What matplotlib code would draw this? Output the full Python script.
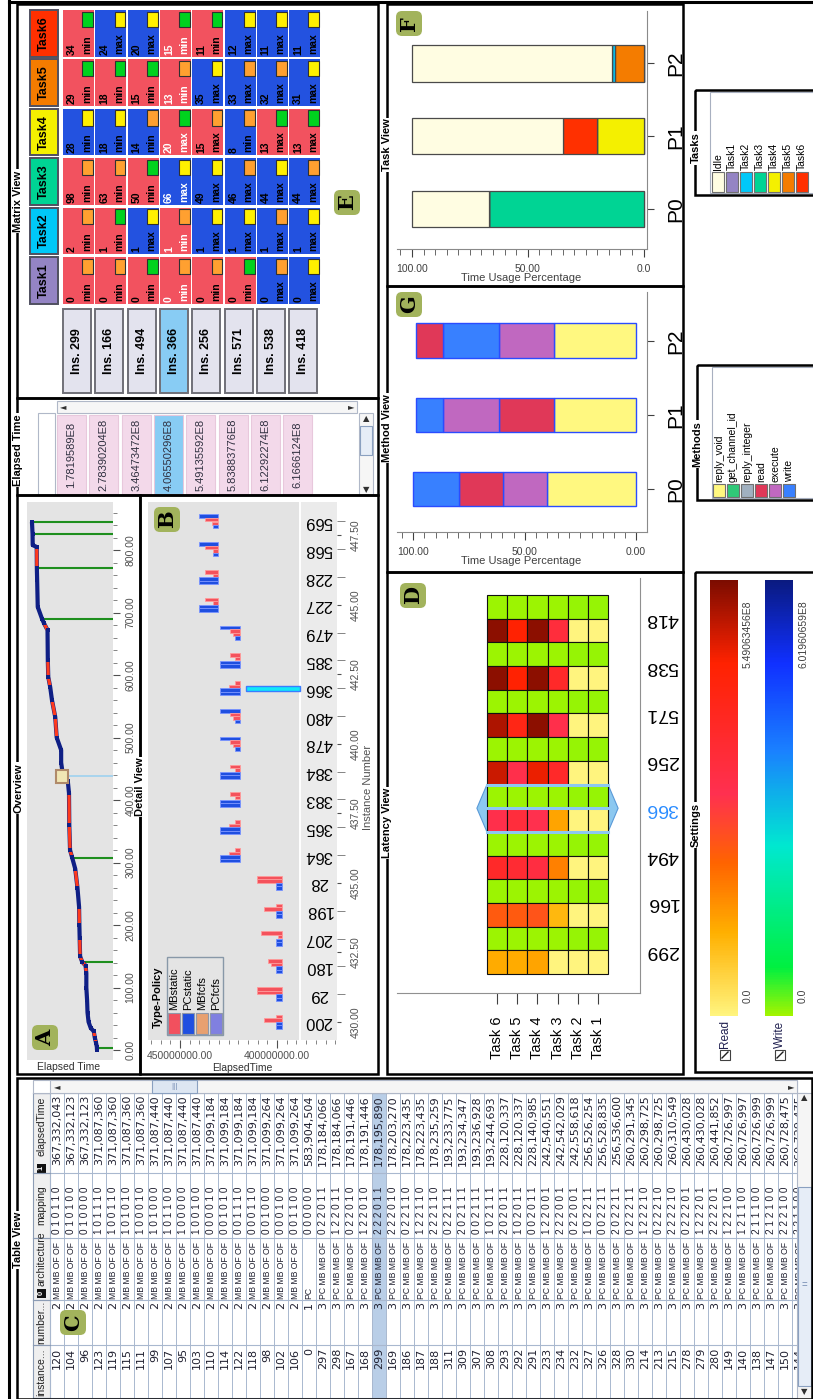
import numpy as np
import matplotlib
matplotlib.use('Agg')
import matplotlib.pyplot as plt
from matplotlib.patches import Rectangle, FancyBboxPatch, Polygon
from matplotlib.colors import LinearSegmentedColormap, Normalize
from matplotlib.cm import ScalarMappable
from matplotlib.ticker import FixedLocator, MultipleLocator

plt.rcParams['font.family'] = ['Liberation Sans', 'DejaVu Sans']
NARROW = ['Liberation Sans Narrow', 'Liberation Sans', 'DejaVu Sans']

# ------------------------------------------------------------------ data
mx_instances = ['Ins. 299', 'Ins. 166', 'Ins. 494', 'Ins. 366', 'Ins. 256', 'Ins. 571', 'Ins. 538', 'Ins. 418']
mx_tasks = ['Task1', 'Task2', 'Task3', 'Task4', 'Task5', 'Task6']
task_colors = ['#9484c4', '#00c8f8', '#00d494', '#f4f000', '#f47c00', '#ff3000']
mx_values = [[0, 2, 98, 28, 29, 34], [0, 1, 63, 18, 18, 24], [0, 1, 50, 14, 15, 20], [0, 1, 66, 20, 13, 15],
             [0, 1, 49, 15, 35, 11], [0, 1, 46, 8, 33, 12], [0, 1, 44, 13, 32, 11], [0, 1, 44, 13, 31, 11]]
mx_kind = [['min', 'min', 'min', 'min', 'min', 'min'], ['min', 'min', 'min', 'min', 'min', 'max'],
           ['min', 'max', 'min', 'min', 'min', 'max'], ['min', 'min', 'max', 'max', 'min', 'min'],
           ['min', 'max', 'max', 'max', 'max', 'min'], ['min', 'max', 'max', 'min', 'max', 'max'],
           ['max', 'max', 'max', 'max', 'max', 'max'], ['max', 'max', 'max', 'max', 'max', 'max']]
mx_cell = ['RRRBRR', 'RRRBRB', 'RBRBRB', 'RRBRRR', 'RBBRBR', 'RBBBBB', 'BBBRBB', 'BBBRBB']
mx_flag = ['oooygg', 'ogoygy', 'gygogy', 'ooygog', 'oyyoyg', 'gyoooy', 'ooygoy', 'yyogyy']
mx_selected = 3

elapsed_list = ['1.7819589E8', '2.78390204E8', '3.46473472E8', '4.06550296E8',
                '5.49135592E8', '5.83883776E8', '6.12292274E8', '6.1666124E8']

# overview (instance rank, elapsed time in 1e8)
ov_idx = [0, 5, 12, 20, 30, 35, 45, 60, 80, 100, 123, 135, 141, 150, 180, 200, 229, 260, 290, 309, 320, 360,
          411, 430, 438, 460, 480, 500, 533, 560, 581, 597, 624, 672, 683, 690, 709, 752, 771, 805, 808, 826, 845]
ov_val = [1.78, 1.79, 1.85, 1.93, 2.00, 2.20, 2.35, 2.42, 2.45, 2.50, 2.50, 2.55, 2.78, 2.92, 2.95, 2.97, 2.99,
          3.10, 3.25, 3.47, 3.60, 3.65, 3.67, 3.75, 4.07, 4.20, 4.20, 4.50, 4.60, 4.82, 4.94, 5.07, 5.10, 5.12,
          5.36, 5.49, 5.78, 5.82, 5.84, 5.85, 6.12, 6.13, 6.17]
ov_seg = 'rrrrbbbbbbrrrrbrbrbrrrbbbbbrrbrrbrbbbbrbbb'
sel_idx = [3, 141, 307, 438, 690, 771, 826, 845]
sel_val = [1.78, 2.78, 3.46, 4.07, 5.49, 5.84, 6.12, 6.17]
sel_current = 3

# detail view (elapsed time in millions)
det_instances = ['200', '29', '180', '207', '198', '28', '364', '365', '383', '384', '478', '480', '366', '385',
                 '479', '227', '228', '568', '569']
det_pos = [430, 431, 432, 433, 434, 435, 436, 437, 438, 439, 440, 441, 442, 443, 444, 445, 446, 447, 448]
det_base = [397.6] * 6 + [419.1] * 9 + [430.3] * 4
det_vals = [[400.5, 406.7, 400.5, 400.5], [410.5, 410.5, 400.5, 400.5], [404.5, 403.0, 400.5, 400.5],
            [408.2, 399.5, 400.5, 400.5], [400.5, 406.7, 400.5, 400.5], [410.5, 410.5, 400.5, 400.5],
            [421.6, 424.6, 429.4, 429.4], [421.6, 424.6, 429.4, 429.4], [424.2, 421.6, 429.4, 429.4],
            [424.2, 421.6, 429.4, 429.4], [429.4, 424.2, 422.5, 421.9], [429.4, 424.2, 422.5, 421.9],
            [421.6, 424.6, 429.4, 429.4], [424.2, 421.6, 429.4, 429.4], [429.4, 424.2, 422.5, 421.6],
            [437.1, 432.8, 440.1, 440.1], [437.1, 432.8, 440.1, 440.1], [440.1, 437.1, 433.2, 433.2],
            [440.1, 437.1, 433.7, 433.2]]
det_cols = ['RRBB', 'RRBB', 'RRBB', 'RRBB', 'RRBB', 'RRBB', 'RRBB', 'RRBB', 'RRBB', 'RRBB', 'BRRB', 'BRRB',
            'RRBB', 'RRBB', 'BRRB', 'RRBB', 'RRBB', 'BRRB', 'BRRB']
det_selected = '366'
det_sel_range = (388.1, 416.0)
type_policy = ['MBstatic', 'PCstatic', 'MBfcfs', 'PCfcfs']
type_colors = ['#f2505e', '#1f4fe0', '#e8a070', '#8080e0']

# table view
tbl_instance = [120, 104, 96, 123, 119, 115, 111, 99, 107, 95, 103, 110, 114, 122, 118, 98, 102, 106, 0, 297,
                298, 167, 168, 299, 169, 186, 187, 188, 311, 309, 307, 308, 293, 292, 291, 233, 234, 232, 327,
                326, 328, 330, 214, 213, 215, 278, 279, 280, 149, 140, 138, 147, 150, 144]
tbl_number = [2] * 18 + [1] + [3] * 35
tbl_arch = ['MB MB OF OF'] * 18 + ['PC'] + ['PC MB MB OF'] * 35
tbl_mapping = ['010110', '010100', '010000', '101110', '100110', '101010', '100010', '101000', '101100',
               '100000', '100100', '000010', '001010', '001110', '000110', '001000', '000100', '001100',
               '000000', '022011', '122011', '022010', '122010', '222011', '222010', '022110', '122110',
               '222110', '022111', '202111', '002111', '102111', '202011', '102011', '002011', '122001',
               '222001', '022001', '102211', '002211', '202211', '022211', '122210', '022210', '222210',
               '022201', '122201', '222201', '122100', '121100', '211100', '212100', '222100', '221100']
tbl_elapsed = [367332043, 367332123, 367332123, 371087360, 371087360, 371087360, 371087360, 371087440,
               371087440, 371087440, 371087440, 371099184, 371099184, 371099184, 371099184, 371099264,
               371099264, 371099264, 583904504, 178184066, 178184066, 178191446, 178191446, 178195890,
               178203270, 178223435, 178223435, 178235259, 193233775, 193234347, 193236928, 193244693,
               228120337, 228120337, 228140985, 242540551, 242542029, 242558618, 256526254, 256528835,
               256536600, 260291345, 260298725, 260298725, 260310549, 260430028, 260430028, 260441852,
               260726997, 260726997, 260726999, 260726999, 260728475, 260729475]
tbl_selected = 23

# task view (percent of time)
procs = ['P0', 'P1', 'P2']
task_names = ['Idle', 'Task1', 'Task2', 'Task3', 'Task4', 'Task5', 'Task6']
task_legend_colors = ['#fffde2', '#9484c4', '#00c8f8', '#00d494', '#f4f000', '#f47c00', '#ff3000']
task_stack = ['Task1', 'Task3', 'Task4', 'Task5', 'Task2', 'Task6', 'Idle']
task_pct = {'Idle': [33.2, 65.0, 86.5], 'Task1': [0, 0, 0], 'Task2': [0, 0, 1.3], 'Task3': [66.8, 0, 0],
            'Task4': [0, 20.0, 0], 'Task5': [0, 0, 12.2], 'Task6': [0, 15.0, 0]}

# method view
methods = ['reply_void', 'get_channel_id', 'reply_integer', 'read', 'execute', 'write']
method_colors = ['#fff880', '#30c878', '#a0b0c0', '#e03858', '#c068c0', '#3880ff']
meth_stack = [['reply_void', 'execute', 'read', 'write'], ['reply_void', 'read', 'execute', 'write'],
              ['reply_void', 'execute', 'write', 'read']]
meth_pct = [[39.8, 19.8, 20.0, 20.3], [36.9, 24.7, 25.0, 12.0], [36.9, 24.7, 25.0, 12.0]]

# latency view (1e8), columns Task6..Task1
lat_instances = ['418', '538', '571', '256', '366', '494', '166', '299']
lat_tasks = ['Task 6', 'Task 5', 'Task 4', 'Task 3', 'Task 2', 'Task 1']
lat_read = [[5.35, 4.4, 5.35, 3.2, 0.02, 0.02], [5.35, 4.4, 5.35, 3.6, 0.02, 0.02],
            [5.1, 4.0, 5.35, 2.9, 0.02, 0.02], [4.85, 2.9, 4.6, 3.6, 0.02, 0.02],
            [2.9, 3.2, 2.85, 1.2, 0.02, 0.02], [3.6, 3.4, 3.1, 1.6, 0.02, 0.02],
            [2.1, 2.1, 2.2, 0.93, 0.02, 0.02], [1.1, 1.1, 1.2, 0.02, 0.02, 0.02]]
lat_write = [[0.03, 0.03, 0.03, 0.03, 0.05, 0.05]] * 8
read_max = 5.49063456
write_max = 6.01960659

# ------------------------------------------------------------------ figure
W, H = 813, 1399
fig = plt.figure(figsize=(W / 100, H / 100), dpi=100)
fig.patch.set_facecolor('white')


def box(x0, y0, x1, y1, z=5):
    return fig.add_axes([x0 / W, 1 - y1 / H, (x1 - x0) / W, (y1 - y0) / H], zorder=z)


fg = box(0, 0, W, H, z=30)
fg.set_xlim(0, W)
fg.set_ylim(H, 0)
fg.axis('off')


def T(x, y, s, rot=90, size=8, weight='normal', color='black', ha='center', va='center', family=None, ax=None, **kw):
    a = ax if ax is not None else fg
    kws = dict(rotation=rot, fontsize=size, fontweight=weight, color=color, ha=ha, va=va)
    if family is not None:
        kws['family'] = family
    kws.update(kw)
    return a.text(x, y, s, **kws)


def rect(x0, y0, x1, y1, fc='none', ec='black', lw=1.0, ax=None, **kw):
    a = ax if ax is not None else fg
    p = Rectangle((x0, y0), x1 - x0, y1 - y0, fc=fc, ec=ec, lw=lw, **kw)
    a.add_patch(p)
    return p


def title(x, y, s):
    T(x, y, s, size=8, weight='bold', family=NARROW, bbox=dict(fc='white', ec='none', pad=0.8))


def badge(x0, y0, letter):
    fg.add_patch(FancyBboxPatch((x0 + 3, y0 + 3), 20, 19, boxstyle='round,pad=3,rounding_size=6',
                                fc='#a2b35c', ec='none'))
    T(x0 + 13, y0 + 12.5, letter, size=15, weight='bold', family='DejaVu Serif')


# outer lines
fg.plot([9, 9], [0, H], color='black', lw=2.2)
fg.plot([9, W], [2, 2], color='black', lw=2.2)

# ------------------------------------------------------------------ matrix view
RED, BLUE = '#f2525f', '#2352e0'
FLAG = {'o': '#ffa030', 'y': '#fff000', 'g': '#00d21e'}
mxa = box(63, 8.6, 321.4, 305, z=6)
mxa.set_xlim(0, 8)
mxa.set_ylim(0, 6)
mxa.axis('off')
cw = 31 / 32.3
for j, tname in enumerate(mx_tasks):
    mxa.add_patch(Rectangle((-1.02, j + 0.03), 0.865, 0.94, fc=task_colors[j], ec='#505060', lw=1.4, clip_on=False))
    mxa.text(-0.59, j + 0.5, tname, rotation=90, ha='center', va='center', fontsize=9, fontweight='bold',
             family=NARROW, clip_on=False)
for i, inst in enumerate(mx_instances):
    sel = (i == mx_selected)
    mxa.add_patch(Rectangle((i, -1.78), 0.87, 1.70, fc='#88ccf4' if sel else '#e3e3ee', ec='#707078', lw=1.4,
                            clip_on=False))
    mxa.text(i + 0.435, -0.93, inst, rotation=90, ha='center', va='center', fontsize=9, fontweight='bold',
             family=NARROW, clip_on=False)
    tc = 'white' if sel else 'black'
    for j in range(6):
        mxa.add_patch(Rectangle((i, j + 0.03), cw, 0.94, fc=RED if mx_cell[i][j] == 'R' else BLUE, ec='none'))
        mxa.text(i + 0.28, j + 0.07, str(mx_values[i][j]), rotation=90, ha='center', va='bottom', fontsize=7.5,
                 fontweight='bold', color=tc)
        mxa.text(i + 0.74, j + 0.09, mx_kind[i][j], rotation=90, ha='center', va='bottom', fontsize=7.5,
                 fontweight='bold', color=tc)
        mxa.add_patch(Rectangle((i + 0.6, j + 0.63), 0.33, 0.31, fc=FLAG[mx_flag[i][j]], ec='#303030', lw=0.8))

# ------------------------------------------------------------------ elapsed time list
rect(38, 413, 55, 495, fc='white', ec='#b0b8c8', lw=0.8)
rect(57, 401, 357, 413, fc='#f6f6f6', ec='#b0b8c8', lw=0.8)
T(63, 407, '\u25c4', rot=0, size=6, family='DejaVu Sans', color='#303030')
T(351, 407, '\u25ba', rot=0, size=6, family='DejaVu Sans', color='#303030')
rect(359, 413, 373, 495, fc='#f6f6f6', ec='#b0b8c8', lw=0.8)
rect(360, 426, 372, 455, fc='#e6edf7', ec='#8aa0c0', lw=0.8)
T(366, 419, '\u25b2', rot=0, size=6, family='DejaVu Sans', color='#303030')
T(366, 490, '\u25bc', rot=0, size=6, family='DejaVu Sans', color='#303030')
for i, s in enumerate(elapsed_list):
    x0 = 57 + 32.3 * i
    rect(x0, 415, x0 + 29, 494, fc='#88ccf4' if i == mx_selected else '#f3d9ea', ec='#e8c8dc', lw=0.8)
    T(x0 + 14.5, 455, s, size=8, color='#303040')

# ------------------------------------------------------------------ overview
ov = box(27, 502, 113, 1060, z=6)
ov.set_facecolor('#e4e4e4')
ov.set_xlim(6.505, 0.70)
ov.set_ylim(-16, 877)
for s in ov.spines.values():
    s.set_visible(False)
ov.set_xticks([])
ov.yaxis.tick_right()
ov.yaxis.set_major_locator(FixedLocator(list(range(0, 801, 100))))
ov.yaxis.set_minor_locator(MultipleLocator(20))
ov.set_yticklabels(['%.2f' % v for v in range(0, 801, 100)])
ov.tick_params(axis='y', which='major', length=5, pad=4, labelsize=7.5, labelrotation=90, colors='#505050')
ov.tick_params(axis='y', which='minor', length=3, colors='#707070')
for lab in ov.get_yticklabels():
    lab.set_va('center')
ov.plot(ov_val, ov_idx, color='#0f1f85', lw=3.0, solid_capstyle='butt', zorder=3)
for k in range(len(ov_seg)):
    if ov_seg[k] == 'r':
        ov.plot(ov_val[k:k + 2], ov_idx[k:k + 2], color='#ff3a1e', lw=2.3, solid_capstyle='butt', zorder=4)
ov.scatter(ov_val, ov_idx, s=5, marker='s', color='#0f1f85', zorder=5, linewidths=0)
for k, (yi, vv) in enumerate(zip(sel_idx, sel_val)):
    if k == sel_current:
        ov.hlines(yi, vv, 0.70, colors='#a8d4ee', lw=1.4, zorder=2)
        ov.add_patch(Rectangle((vv - 0.33, yi - 10), 0.81, 20, fc='#f0e6b4', ec='#b08a6a', lw=1.5, zorder=6))
    else:
        ov.hlines(yi, vv, 0.70, colors='#1e8f1e', lw=1.5, zorder=2)
T(69, 1067, 'Elapsed Time', rot=0, size=7.5, color='#303030')

# ------------------------------------------------------------------ detail view
dv = box(148, 502, 337, 1040, z=6)
dv.set_facecolor('#e3e3e3')
dv.set_xlim(466.5, 369.1)
dv.set_ylim(429.35, 448.7)
for s in dv.spines.values():
    s.set_visible(False)
dv.axvspan(369.1, 388.1, color='#ebebeb', zorder=0)
dv.axvline(388.1, color='white', lw=1.4, zorder=1)
offs = [0.19, 0.065, -0.065, -0.19]
for k, inst in enumerate(det_instances):
    for b in range(4):
        red = det_cols[k][b] == 'R'
        dv.barh(det_pos[k] + offs[b], det_vals[k][b] - det_base[k], left=det_base[k], height=0.125,
                color='#f4525c' if red else '#1f4fe0', edgecolor='#ff9a9a' if red else '#7a94ff', lw=0.6,
                zorder=3)
    dv.text(378.7, det_pos[k], inst, rotation=180, ha='center', va='center', fontsize=12, family=NARROW,
            color='black')
    if inst == det_selected:
        dv.barh(det_pos[k], det_sel_range[1] - det_sel_range[0], left=det_sel_range[0], height=0.16,
                color='#10e8f8', edgecolor='#3a7cff', lw=1.0, zorder=4)
dv.xaxis.set_major_locator(FixedLocator([400, 450]))
dv.xaxis.set_minor_locator(MultipleLocator(5))
dv.set_xticklabels(['400000000.00', '450000000.00'])
dv.tick_params(axis='x', which='major', length=6, labelsize=7.5, colors='#505050', pad=2)
dv.tick_params(axis='x', which='minor', length=3, colors='#707070')
dv.yaxis.tick_right()
dv.yaxis.set_major_locator(FixedLocator([430, 432.5, 435, 437.5, 440, 442.5, 445, 447.5]))
dv.yaxis.set_minor_locator(FixedLocator(det_pos))
dv.set_yticklabels(['%.2f' % v for v in [430, 432.5, 435, 437.5, 440, 442.5, 445, 447.5]])
dv.tick_params(axis='y', which='major', length=3, labelsize=7.5, labelrotation=90, colors='#505050', pad=7)
dv.tick_params(axis='y', which='minor', length=6, colors='#707070')
for lab in dv.get_yticklabels():
    lab.set_va('center')
T(368, 787, 'Instance Number', size=8, color='#505050')
T(242, 1068, 'ElapsedTime', rot=0, size=7.5, color='#303030')
# type-policy legend
rect(167, 957, 223, 1035, fc='#e4e4e4', ec='#8898a8', lw=1.0)
T(158, 997, 'Type-Policy', size=8, weight='bold', family=NARROW)
for k, (nm, col) in enumerate(zip(type_policy, type_colors)):
    x0 = 168 + 14 * k
    rect(x0, 1013, x0 + 12, 1034, fc=col, ec='#9098a8', lw=0.8)
    T(x0 + 6, 1010, nm, size=8, va='bottom')

# ------------------------------------------------------------------ table view
tb = box(50, 1093, 797, 1398, z=6)
tb.set_xlim(0, 747 / 14)
tb.set_ylim(1398, 1093)
tb.axis('off')
col_edges = [1093, 1173, 1238, 1300, 1345, 1398]
tb.add_patch(Rectangle((tbl_selected, 1093), 1, 305, fc='#b9cee7', ec='none'))
for i in range(len(tbl_instance)):
    x = i + 0.5
    kw = dict(rotation=90, ha='center', color='#202030', clip_on=True)
    tb.text(x, 1348, str(tbl_instance[i]), va='top', fontsize=8, family='DejaVu Sans', **kw)
    tb.text(x, 1302, str(tbl_number[i]), va='top', fontsize=8, family='DejaVu Sans', **kw)
    tb.text(x, 1299, tbl_arch[i], va='bottom', fontsize=6.2, family='Liberation Sans', **kw)
    tb.text(x, 1234, ' '.join(tbl_mapping[i]), va='bottom', fontsize=7.2, family='Liberation Sans', **kw)
    tb.text(x, 1095, '{:,}'.format(tbl_elapsed[i]), va='top', fontsize=8, family='DejaVu Sans', **kw)
for i in range(len(tbl_instance) + 1):
    tb.plot([i, i], [1093, 1398], color='#a9b8cf', lw=0.7)
for y in col_edges:
    tb.plot([-1.21, 54], [y, y], color='#a9b8cf', lw=0.8, clip_on=False)
tb.add_patch(Rectangle((-1.21, 1093), 1.21, 305, fc='#efefef', ec='#8c9cb4', lw=0.8, clip_on=False))
for y in col_edges:
    tb.plot([-1.21, 0], [y, y], color='#8c9cb4', lw=0.8, clip_on=False)
hk = dict(rotation=90, ha='center', va='center', fontsize=7.5, color='#202020', clip_on=False)
tb.text(-0.6, 1372, 'instance...', **hk)
tb.text(-0.6, 1322, 'number...', **hk)
tb.text(-0.6, 1259, 'architecture', **hk)
tb.text(-0.6, 1205, 'mapping', **hk)
tb.text(-0.6, 1126, 'elapsedTime', **hk)
for yb, d in [(1293, '0'), (1168, '1')]:
    tb.add_patch(Rectangle((-0.92, yb - 4.5), 0.62, 9, fc='#111111', ec='none', clip_on=False))
    tb.text(-0.61, yb, d, rotation=90, ha='center', va='center', fontsize=5.5, color='white', fontweight='bold',
            clip_on=False)
rect(33, 1080, 797, 1093, fc='white', ec='#b0b8c8', lw=0.8)
rect(50, 1080, 797, 1093, fc='#f5f5f5', ec='#b0b8c8', lw=0.8)
rect(152, 1080, 197, 1093, fc='#dde6f2', ec='#8aa0c0', lw=0.8)
T(174, 1086.5, '|||', rot=0, size=6, color='#7088b0')
T(57, 1086.5, '\u25c4', rot=0, size=6, family='DejaVu Sans', color='#303030')
T(791, 1086.5, '\u25ba', rot=0, size=6, family='DejaVu Sans', color='#303030')
rect(797, 1093, 812, 1399, fc='#f5f5f5', ec='#b0b8c8', lw=0.8)
rect(798, 1187, 811, 1386, fc='#e6edf7', ec='#8aa0c0', lw=0.8)
T(804.5, 1285, '=', rot=0, size=7, color='#7088b0')
T(804.5, 1098, '\u25b2', rot=0, size=6, family='DejaVu Sans', color='#303030')
T(804.5, 1392, '\u25bc', rot=0, size=6, family='DejaVu Sans', color='#303030')

# ------------------------------------------------------------------ task view
def style_bar_axes(ax, major_labels, xlim, ylim):
    ax.set_xlim(*xlim)
    ax.set_ylim(*ylim)
    ax.spines['top'].set_visible(False)
    ax.spines['left'].set_visible(False)
    ax.spines['bottom'].set_color('#8a8a8a')
    ax.spines['right'].set_color('#8a8a8a')
    ax.xaxis.set_major_locator(FixedLocator([0, 50, 100]))
    ax.xaxis.set_minor_locator(FixedLocator([v for v in range(0, 106, 5)]))
    ax.set_xticklabels(major_labels)
    ax.tick_params(axis='x', which='major', length=6, labelsize=7.5, colors='#404040', pad=5)
    ax.tick_params(axis='x', which='minor', length=4, colors='#505050')
    ax.yaxis.tick_right()
    ax.set_yticks([0, 1, 2])
    ax.set_yticklabels(procs)
    ax.tick_params(axis='y', length=5, labelsize=15, labelrotation=90, pad=9, colors='#404040')
    for lab in ax.get_yticklabels():
        lab.set_color('black')
        lab.set_va('center')


tv = box(397, 11, 647, 249, z=6)
style_bar_axes(tv, ['0.0', '50.00', '100.00'], (106.5, -1.5), (-0.55, 2.72))
cum = np.zeros(3)
for tname in task_stack:
    vals = np.array(task_pct[tname], dtype=float)
    col = task_legend_colors[task_names.index(tname)]
    tv.barh([0, 1, 2], vals, left=cum, height=0.5, color=col, edgecolor='#4a4a4a', lw=0.9)
    cum += vals
T(521, 278, 'Time Usage Percentage', rot=0, size=8, color='#404040')

mv = box(397, 292, 647, 532, z=6)
style_bar_axes(mv, ['0.00', '50.00', '100.00'], (107.3, -4.9), (-0.58, 2.66))
for p in range(3):
    left = 0.0
    for nm, v in zip(meth_stack[p], meth_pct[p]):
        mv.barh(p, v, left=left, height=0.47, color=method_colors[methods.index(nm)], edgecolor='#2a4cff', lw=1.0)
        left += v
T(521, 561, 'Time Usage Percentage', rot=0, size=8, color='#404040')

# ------------------------------------------------------------------ latency view
read_cmap = LinearSegmentedColormap.from_list('read', [(0, '#fff47e'), (0.19, '#ffb000'), (0.35, '#ff6400'),
                                                       (0.51, '#ff3050'), (0.81, '#ff2200'), (1.0, '#7c0c00')])
write_cmap = LinearSegmentedColormap.from_list('write', [(0, '#a2f400'), (0.11, '#00f040'), (0.39, '#00e8d0'),
                                                         (0.61, '#1a80ff'), (0.81, '#1030ff'), (1.0, '#0a1a80')])
rnorm = Normalize(0, read_max)
wnorm = Normalize(0, write_max)
lv = box(397, 578, 640, 993, z=6)
lv.set_xlim(-4.46, 7.585)
lv.set_ylim(16.8, -0.72)
lv.spines['top'].set_visible(False)
lv.spines['left'].set_visible(False)
lv.spines['bottom'].set_color('#909090')
lv.spines['right'].set_color('#909090')
sel_k = lat_instances.index('366')
lv.add_patch(Polygon([(0, 2 * sel_k), (6, 2 * sel_k), (6.5, 2 * sel_k + 1), (6, 2 * sel_k + 2), (0, 2 * sel_k + 2),
                      (-0.5, 2 * sel_k + 1)], closed=True, fc='#8cc8f0', ec='#5a9ad8', lw=0.8, zorder=1))
for k, inst in enumerate(lat_instances):
    for c in range(6):
        lv.add_patch(Rectangle((c, 2 * k), 1, 1, fc=write_cmap(wnorm(lat_write[k][c])), ec='#111111', lw=0.8,
                               zorder=2))
        lv.add_patch(Rectangle((c, 2 * k + 1), 1, 1, fc=read_cmap(rnorm(lat_read[k][c])), ec='#111111', lw=0.8,
                               zorder=2))
for yy in [2 * sel_k, 2 * sel_k + 1, 2 * sel_k + 2]:
    lv.plot([0, 6], [yy, yy], color='#8cc8f0', lw=2.2, zorder=3)
lv.set_xticks([c + 0.5 for c in range(6)])
lv.set_xticklabels(lat_tasks)
lv.tick_params(axis='x', length=8, labelsize=10.5, labelrotation=90, pad=9, colors='#404040')
for lab in lv.get_xticklabels():
    lab.set_color('black')
lv.yaxis.tick_right()
lv.set_yticks([2 * k + 1 for k in range(8)])
lv.set_yticklabels(lat_instances)
lv.tick_params(axis='y', length=0, labelsize=14, labelrotation=180, pad=4)
for lab in lv.get_yticklabels():
    lab.set_family(NARROW)
    lab.set_va('center')
    if lab.get_text() == '366':
        lab.set_color('#2a8cff')

# ------------------------------------------------------------------ settings
cax1 = box(710, 580, 738, 1016, z=6)
cb1 = fig.colorbar(ScalarMappable(rnorm, read_cmap), cax=cax1)
cb1.set_ticks([])
cb1.outline.set_visible(False)
cax2 = box(765, 580, 793, 1016, z=6)
cb2 = fig.colorbar(ScalarMappable(wnorm, write_cmap), cax=cax2)
cb2.set_ticks([])
cb2.outline.set_visible(False)
T(748, 600, '%.8fE8' % read_max, size=7.5, va='top', color='#404040')
T(748, 996, '0.0', size=7.5, color='#404040')
T(803, 600, '%.8fE8' % write_max, size=7.5, va='top', color='#404040')
T(803, 996, '0.0', size=7.5, color='#404040')
for xc, nm in [(725, 'Read'), (780, 'Write')]:
    T(xc, 1034, nm, size=8.5, color='#202050')
    rect(xc - 5, 1050, xc + 5, 1060, fc='white', ec='#404040', lw=0.8)
    fg.plot([xc - 3, xc + 3], [1058, 1052], color='#202020', lw=1.0)

# legends (tasks / methods)
rect(710, 92, 815, 193, fc='white', ec='#a8b0c0', lw=0.8)
for k, (nm, col) in enumerate(zip(task_names, task_legend_colors)):
    x0 = 712 + 14 * k
    rect(x0, 172, x0 + 11.5, 192, fc=col, ec='#707070', lw=0.8)
    T(x0 + 5.75, 170, nm, size=7.5, va='bottom', family=NARROW)
rect(712, 367, 815, 498, fc='white', ec='#a8b0c0', lw=0.8)
for k, (nm, col) in enumerate(zip(methods, method_colors)):
    x0 = 713 + 14 * k
    rect(x0, 484, x0 + 12, 497, fc=col, ec='#707070', lw=0.8)
    T(x0 + 6, 482, nm, size=7.5, va='bottom', family=NARROW)

# ------------------------------------------------------------------ frames and titles
for (x0, y0, x1, y1) in [(17, 4, 378, 398), (17, 398, 378, 495), (17, 495, 140, 1074), (140, 495, 378, 1074),
                         (17, 1078, 812, 1399), (387, 4, 683, 286), (387, 286, 683, 572), (387, 572, 683, 1074),
                         (695, 90, 815, 195), (697, 365, 815, 500), (695, 572, 815, 1072)]:
    rect(x0, y0, x1, y1, lw=1.8)
title(18, 201, 'Matrix View')
title(18, 450, 'Elapsed Time')
title(18, 788, 'Overview')
title(140, 787, 'Detail View')
title(18, 1240, 'Table View')
title(387, 145, 'Task View')
title(387, 428, 'Method View')
title(387, 823, 'Latency View')
title(696, 148, 'Tasks')
title(697, 444, 'Methods')
title(696, 825, 'Settings')

badge(32, 1025, 'A')
badge(154, 507, 'B')
badge(60, 1310, 'C')
badge(400, 583, 'D')
badge(334, 190, 'E')
badge(396, 11, 'F')
badge(396, 292, 'G')

fig.savefig('out.png', dpi=100, facecolor='white')
